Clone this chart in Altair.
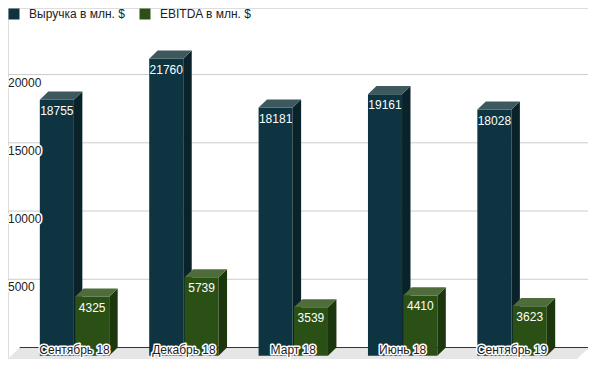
import altair as alt
import pandas as pd

categories = ["Сентябрь 18", "Декабрь 18", "Март 18", "Июнь 18", "Сентябрь 19"]
series_names = ["Выручка в млн. $", "EBITDA в млн. $"]
revenue = [18755, 21760, 18181, 19161, 18028]
ebitda = [4325, 5739, 3539, 4410, 3623]
y_ticks = [5000, 10000, 15000, 20000]

front_colors = ["#0d3440", "#2a5015"]
side_colors = ["#0a232a", "#1c370d"]
top_colors = ["#3d595d", "#4e6d3b"]
FONT = "Arial, 'Liberation Sans', sans-serif"

# layout geometry (reference pixel space)
REF_W, REF_H = 596, 367
W, H = 580, 351
STEP_PX = 112.4
X0_PX = 32.7
BAR_PX = 35.0
PAIR_PX = 36.3
DEPTH_X_PX = 8.7
DEPTH_Y_PX = 8.5
Y0_PX = 363.5
PX_PER_VALUE = 0.014270


def u(px):
    return (px - X0_PX) / STEP_PX


def val_at(py):
    return (Y0_PX - py) / PX_PER_VALUE


BW = BAR_PX / STEP_PX
OFF = PAIR_PX / STEP_PX
DX = DEPTH_X_PX / STEP_PX
DY = DEPTH_Y_PX / PX_PER_VALUE

xscale = alt.Scale(domain=[u(0), u(REF_W)], nice=False, zero=False)
yscale = alt.Scale(domain=[val_at(REF_H), val_at(0)], nice=False, zero=False)

series_values = [revenue, ebitda]

# floor
ybot = val_at(REF_H)
shift = (DY - ybot) * PX_PER_VALUE * (DEPTH_X_PX / DEPTH_Y_PX) / STEP_PX
floor_df = pd.DataFrame({
    "y": [ybot, DY],
    "xl": [u(12) - shift, u(12)],
    "xr": [u(597) - shift, u(597)],
})
floor = alt.Chart(floor_df).mark_area(orient="horizontal", color="#e6e6e6", clip=True).encode(
    y=alt.Y("y:Q", scale=yscale, axis=None),
    x=alt.X("xl:Q", scale=xscale, axis=None, stack=False),
    x2="xr:Q",
)

grid_df = pd.DataFrame({"v": y_ticks})
grid_df["y"] = grid_df["v"] + DY
grid_df["x"] = u(0)
grid_df["x2"] = u(597)
grid = alt.Chart(grid_df).mark_rule(color="#cccccc", strokeWidth=1).encode(
    x=alt.X("x:Q", scale=xscale, axis=None),
    x2="x2:Q",
    y=alt.Y("y:Q", scale=yscale, axis=None),
)

base_df = pd.DataFrame({"x": [u(12)], "x2": [u(597)], "y": [DY]})
baseline = alt.Chart(base_df).mark_rule(color="#333333", strokeWidth=1).encode(
    x=alt.X("x:Q", scale=xscale, axis=None),
    x2="x2:Q",
    y=alt.Y("y:Q", scale=yscale, axis=None),
)

legend = alt.Legend(
    title=None, orient="none", legendX=0, legendY=0, direction="horizontal",
    symbolType="square", symbolSize=121, symbolStrokeWidth=0,
    labelFontSize=12, labelColor="#222222", labelFont=FONT,
    labelOffset=9, columnPadding=14, padding=0,
)

bar_layers = []
label_rows = []
for s, name in enumerate(series_names):
    fr, sd, tp = [], [], []
    for i, cat in enumerate(categories):
        v = series_values[s][i]
        x1 = i + s * OFF
        x2 = x1 + BW
        bid = f"{s}-{i}"
        fr.append({"series": name, "x1": x1, "x2": x2, "y1": 0, "y2": v})
        sd.append({"bar": bid, "x": x2, "y": v, "y2": 0})
        sd.append({"bar": bid, "x": x2 + DX, "y": v + DY, "y2": DY})
        tp.append({"bar": bid, "y": v, "xl": x1, "xr": x2})
        tp.append({"bar": bid, "y": v + DY, "xl": x1 + DX, "xr": x2 + DX})
        label_rows.append({"x": x1 + BW / 2, "y": v, "label": str(v)})
    front = alt.Chart(pd.DataFrame(fr)).mark_rect().encode(
        x=alt.X("x1:Q", scale=xscale, axis=None),
        x2="x2:Q",
        y=alt.Y("y1:Q", scale=yscale, axis=None),
        y2="y2:Q",
        color=alt.Color("series:N", scale=alt.Scale(domain=series_names, range=front_colors), legend=legend),
    )
    side = alt.Chart(pd.DataFrame(sd)).mark_area(orient="vertical", color=side_colors[s]).encode(
        x=alt.X("x:Q", scale=xscale, axis=None),
        y=alt.Y("y:Q", scale=yscale, axis=None, stack=False),
        y2="y2:Q",
        detail="bar:N",
    )
    top = alt.Chart(pd.DataFrame(tp)).mark_area(orient="horizontal", color=top_colors[s]).encode(
        y=alt.Y("y:Q", scale=yscale, axis=None),
        x=alt.X("xl:Q", scale=xscale, axis=None, stack=False),
        x2="xr:Q",
        detail="bar:N",
    )
    bar_layers += [front, side, top]

values_text = alt.Chart(pd.DataFrame(label_rows)).mark_text(
    color="white", fontSize=12, font=FONT, dy=11, align="center", baseline="middle"
).encode(
    x=alt.X("x:Q", scale=xscale, axis=None),
    y=alt.Y("y:Q", scale=yscale, axis=None),
    text="label:N",
)

ylab_df = pd.DataFrame({"v": y_ticks})
ylab_df["label"] = ylab_df["v"].astype(str)
ylab_df["x"] = u(0)


def halo_text(df, align, xfield, yfield):
    enc = dict(
        x=alt.X(f"{xfield}:Q", scale=xscale, axis=None),
        y=alt.Y(f"{yfield}:Q", scale=yscale, axis=None),
        text="label:N",
    )
    halo = alt.Chart(df).mark_text(
        color="white", stroke="white", strokeWidth=3, strokeJoin="round",
        fontSize=12, font=FONT, align=align, baseline="middle",
    ).encode(**enc)
    fill = alt.Chart(df).mark_text(
        color="#222222", fontSize=12, font=FONT, align=align, baseline="middle",
    ).encode(**enc)
    return [halo, fill]


xlab_df = pd.DataFrame({"label": categories})
xlab_df["x"] = [i + (OFF + BW) / 2 for i in range(len(categories))]
xlab_df["y"] = val_at(358)

layers = [floor, grid, baseline] + bar_layers + [values_text]
layers += halo_text(xlab_df, "center", "x", "y")
layers += halo_text(ylab_df, "left", "x", "v")

chart = alt.layer(*layers).properties(
    width=W, height=H, padding=0, autosize=alt.AutoSizeParams(type="none")
).configure_view(stroke=None).configure(font=FONT)

chart.save("out.html", embed_options={"renderer": "svg", "actions": False})
